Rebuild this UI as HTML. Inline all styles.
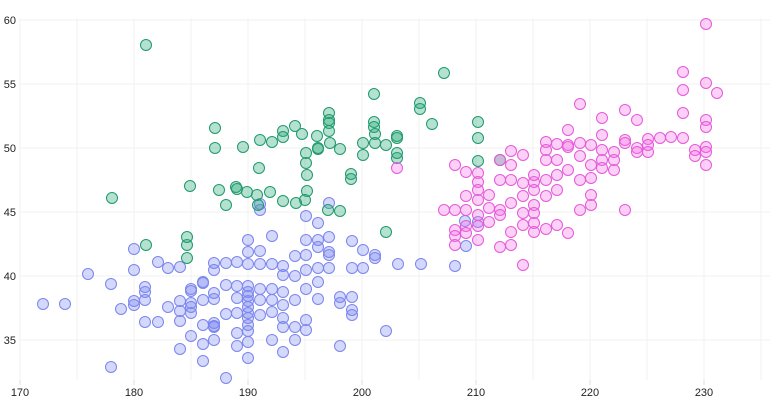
<!DOCTYPE html>
<html><head><meta charset="utf-8"><style>
html,body{margin:0;padding:0;background:#fff;width:784px;height:400px;overflow:hidden}
text{font-family:"Liberation Sans",sans-serif;font-size:11px;fill:#222}
</style></head><body>
<svg id="s" width="784" height="400" xmlns="http://www.w3.org/2000/svg"></svg>
<script>
const s=document.getElementById('s');let h='';
const X=v=>20+(v-170)*11.4, Y=v=>20+(60-v)*12.8;
for(let v=170;v<=235;v+=5){h+=`<line x1="${X(v)}" y1="18" x2="${X(v)}" y2="380" stroke="#f0f0f2"/>`;}
for(let v=35;v<=60;v+=5){h+=`<line x1="20" y1="${Y(v)}" x2="770" y2="${Y(v)}" stroke="#f0f0f2"/>`;h+=`<text x="16" y="${Y(v)+4}" text-anchor="end">${v}</text>`;}
for(let v=170;v<=230;v+=10){h+=`<line x1="${X(v)}" y1="380" x2="${X(v)}" y2="385" stroke="#ddd"/><text x="${X(v)}" y="396" text-anchor="middle">${v}</text>`;}
const blue=[[43,304],[65,304],[88,274],[111,367],[111,284],[121,309],[134,249],[134,270],[134,301],[134,305],[145,300],[145,292],[145,287],[145,322],[158,262],[158,322],[168,268],[168,307],[180,267],[180,321],[180,349],[180,311],[180,301],[191,336],[191,313],[191,291],[191,289],[191,303],[203,283],[203,300],[203,325],[203,344],[203,361],[203,282],[214,270],[214,293],[214,299],[214,323],[214,327],[214,340],[214,326],[214,263],[226,378],[226,314],[226,285],[226,263],[237,262],[237,286],[237,298],[237,333],[237,346],[248,264],[248,286],[248,292],[248,296],[248,301],[248,307],[248,313],[248,318],[248,325],[248,331],[248,342],[248,358],[248,240],[248,252],[260,251],[260,264],[260,289],[260,300],[260,315],[272,236],[272,264],[272,289],[272,300],[272,312],[272,340],[283,266],[283,275],[283,292],[283,305],[283,318],[283,327],[283,352],[295,256],[295,276],[295,300],[295,327],[295,340],[306,240],[306,255],[306,270],[306,289],[306,320],[306,330],[318,240],[318,268],[318,282],[318,299],[318,223],[329,237],[329,252],[329,203],[329,255],[329,268],[340,297],[340,303],[340,346],[352,241],[352,268],[352,297],[352,310],[352,315],[363,250],[363,268],[375,255],[375,258],[386,331],[398,264],[421,264],[455,266],[478,222],[466,246],[465,221],[306,216],[318,247],[260,204],[260,210],[191,307],[237,313]];
const green=[[146,45],[112,198],[146,245],[190,186],[215,128],[243,147],[187,245],[187,237],[187,258],[219,190],[215,148],[236,187],[259,168],[283,131],[295,126],[306,153],[306,163],[307,175],[307,191],[305,200],[296,203],[283,201],[270,192],[258,205],[257,195],[247,192],[237,189],[226,205],[260,140],[272,142],[283,137],[317,136],[318,149],[329,113],[329,120],[329,123],[329,131],[330,143],[340,149],[351,174],[351,179],[363,143],[363,155],[374,122],[374,127],[375,134],[375,143],[374,94],[386,145],[397,136],[397,138],[397,158],[397,153],[386,232],[420,103],[420,109],[432,124],[444,73],[478,122],[478,138],[478,161],[500,160],[328,210],[340,211],[302,134],[318,148]];
const pink=[[706,24],[706,83],[717,93],[683,72],[683,90],[683,113],[683,138],[695,150],[695,156],[706,120],[706,127],[706,147],[706,152],[706,165],[671,137],[660,138],[648,139],[648,145],[648,152],[637,148],[637,152],[625,140],[625,143],[614,152],[614,160],[602,118],[602,135],[602,160],[602,168],[591,145],[591,165],[591,178],[591,195],[591,205],[580,104],[580,143],[580,156],[580,180],[580,210],[568,130],[568,145],[568,147],[568,170],[568,233],[557,144],[557,160],[557,175],[557,190],[557,225],[546,142],[546,150],[546,160],[546,180],[546,196],[546,229],[534,182],[534,175],[534,190],[534,205],[534,213],[534,223],[534,232],[523,155],[523,183],[523,196],[523,213],[523,225],[523,265],[511,151],[511,165],[511,180],[511,203],[511,232],[511,245],[500,160],[500,180],[500,210],[500,215],[500,247],[489,195],[489,208],[489,222],[478,173],[478,182],[478,190],[478,200],[478,215],[478,226],[478,240],[466,172],[466,196],[466,210],[466,226],[466,233],[455,230],[455,236],[455,245],[455,165],[455,210],[444,210],[397,168],[625,110],[637,120],[614,170],[602,150],[625,210]];
function dots(a,f,st){a.forEach(p=>{h+=`<circle cx="${p[0]}" cy="${p[1]}" r="5.5" fill="${f}" stroke="${st}" stroke-width="1"/>`;});}
dots(blue,'rgba(120,135,240,0.32)','#7b86ee');
dots(green,'rgba(40,170,120,0.35)','#1f9a6c');
dots(pink,'rgba(245,110,230,0.32)','#e55ad8');
s.innerHTML=h;
</script>
</body></html>
